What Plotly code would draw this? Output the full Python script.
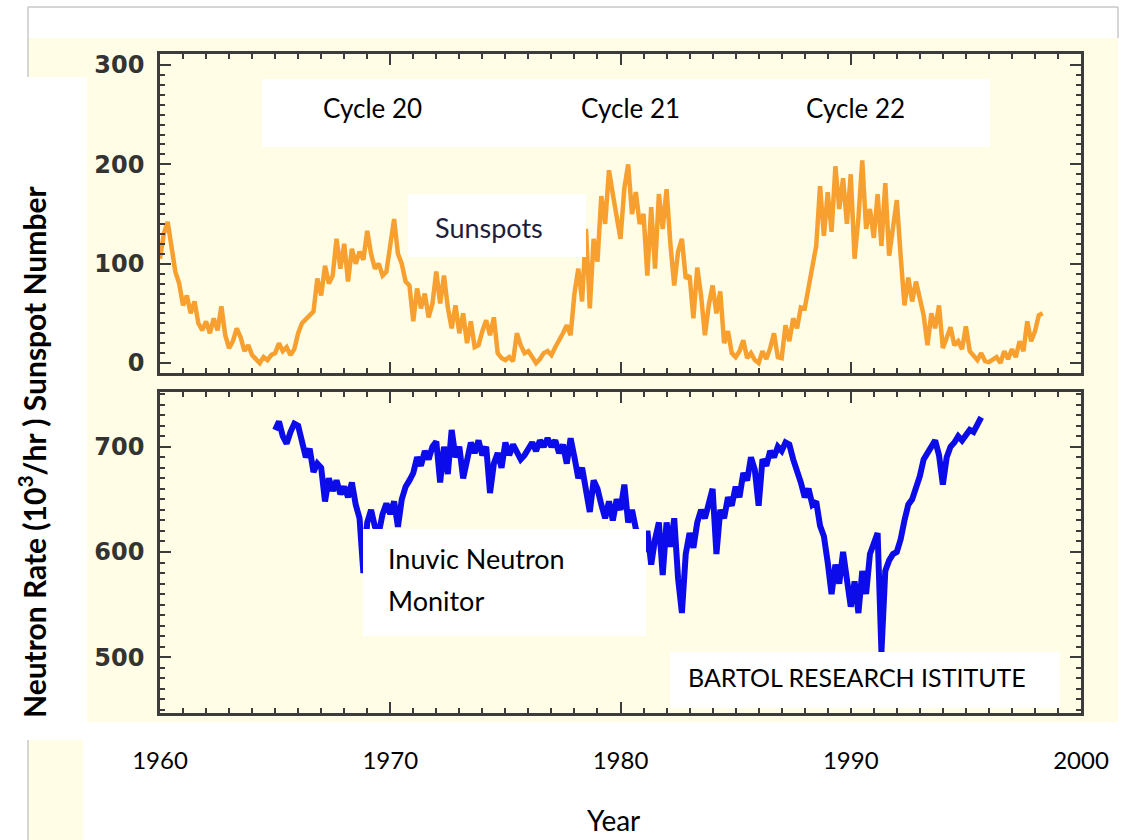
import plotly.graph_objects as go

W, H = 1130, 840

# ---------------- data ----------------
year_ticks = [1960, 1970, 1980, 1990, 2000]
year_labels = ["1960", "1970", "1980", "1990", "2000"]
sunspot_ticks = [0, 100, 200, 300]
neutron_ticks = [500, 600, 700]

sunspot_start = 1960.0   # six samples per year
sunspot_values = [
    105, 130, 142, 118, 92, 80,
    58, 68, 50, 62, 40, 33,
    42, 30, 45, 33, 57, 28,
    15, 22, 35, 26, 12, 18,
    8, 4, 0, 6, 3, 8,
    10, 20, 12, 16, 8, 14,
    30, 40, 44, 48, 52, 85,
    68, 98, 80, 88, 125, 95,
    120, 82, 115, 100, 112, 104,
    133, 110, 95, 100, 88, 92,
    118, 145, 110, 100, 82, 78,
    42, 75, 55, 70, 46, 60,
    92, 60, 88, 56, 35, 58,
    30, 50, 20, 42, 16, 18,
    32, 43, 28, 46, 10, 5,
    3, 6, 2, 30, 18, 10,
    12, 5, 0, 4, 10, 12,
    8, 16, 22, 30, 38, 28,
    70, 95, 62, 135, 55, 125,
    102, 168, 140, 194, 170, 150,
    125, 176, 200, 150, 172, 140,
    150, 88, 157, 95, 170, 135,
    175, 120, 78, 112, 125, 85,
    88, 45, 96, 68, 28, 58,
    78, 50, 72, 20, 32, 10,
    6, 12, 23, 5, 10, 3,
    0, 12, 4, 15, 30, 6,
    5, 38, 22, 45, 35, 56,
    55, 76, 98, 118, 178, 128,
    172, 132, 198, 155, 186, 140,
    190, 105, 146, 204, 135, 155,
    126, 170, 118, 181, 108, 134,
    164, 108, 58, 86, 62, 82,
    64, 48, 18, 50, 35, 58,
    15, 26, 36, 18, 22, 14,
    37, 12, 8, 3, 10, 2,
    1, 3, 6, 0, 12, 4,
    14, 6, 22, 12, 42, 22,
    32, 48, 50,
]

neutron_start = 1965.0   # six samples per year
neutron_values = [
    716, 724, 710, 703, 714, 722,
    720, 706, 690, 698, 676, 684,
    680, 648, 670, 658, 668, 655,
    662, 652, 666, 645, 632, 580,
    628, 640, 624, 618, 636, 646,
    636, 648, 624, 650, 662, 668,
    675, 690, 682, 696, 688, 700,
    705, 666, 700, 674, 716, 690,
    700, 670, 688, 704, 694, 706,
    692, 700, 656, 684, 694, 680,
    704, 692, 702, 696, 688, 692,
    698, 704, 696, 706, 700, 708,
    700, 706, 694, 702, 684, 708,
    690, 670, 680, 658, 638, 668,
    660, 645, 632, 648, 630, 650,
    640, 664, 628, 640, 622, 615,
    600, 620, 588, 612, 628, 578,
    628, 605, 632, 575, 542, 598,
    618, 604, 628, 640, 632, 646,
    660, 598, 640, 632, 652, 644,
    662, 652, 675, 668, 690, 678,
    644, 688, 682, 696, 690, 700,
    696, 704, 702, 688, 678, 666,
    652, 660, 645, 648, 625, 615,
    590, 560, 588, 570, 600, 575,
    548, 572, 542, 582, 560, 598,
    610, 618, 505, 582, 592, 598,
    600, 612, 630, 645, 650, 660,
    672, 688, 694, 700, 706, 692,
    664, 690, 700, 704, 710, 706,
    710, 716, 714, 720, 728,
]

sunspot_years = [sunspot_start + i / 6 for i in range(len(sunspot_values))]
neutron_years = [neutron_start + i / 6 for i in range(len(neutron_values))]

# ---------------- styling ----------------
YELLOW = "#FFFDE6"
AXC = "#3c3c3c"
ORANGE = "#F7A030"
BLUE = "#0C0CEA"
TXT_FONT = "Lato, Carlito, Calibri, sans-serif"


def fx(x):
    return x / W


def fy(y):
    return 1 - y / H


fig = go.Figure()
fig.add_trace(go.Scatter(x=sunspot_years, y=sunspot_values, mode="lines",
                         line=dict(color=ORANGE, width=4.5), xaxis="x", yaxis="y",
                         showlegend=False, hoverinfo="skip"))
fig.add_trace(go.Scatter(x=neutron_years, y=neutron_values, mode="lines",
                         line=dict(color=BLUE, width=6), xaxis="x2", yaxis="y2",
                         showlegend=False, hoverinfo="skip"))

xdom = [fx(160), fx(1081)]
common_x = dict(range=[1960, 2000], showgrid=False, zeroline=False, showline=True,
                automargin=False,
                linecolor=AXC, linewidth=2.5, mirror="allticks", ticks="inside",
                ticklen=11, tickwidth=2, tickcolor=AXC,
                minor=dict(dtick=1, tick0=1960, ticks="inside", ticklen=5, tickwidth=2,
                           tickcolor=AXC, showgrid=False))
common_y = dict(showgrid=False, zeroline=False, showline=True, linecolor=AXC,
                automargin=False,
                linewidth=2.5, mirror="allticks", ticks="inside", ticklen=11,
                tickwidth=2, tickcolor=AXC,
                tickfont=dict(family="DejaVu Sans", size=24, color="#333333", weight="bold"),
                ticklabelstandoff=8,
                minor=dict(dtick=10, ticks="inside", ticklen=5, tickwidth=2,
                           tickcolor=AXC, showgrid=False))

fig.update_layout(
    width=W, height=H, margin=dict(l=0, r=0, t=0, b=0, autoexpand=False),
    paper_bgcolor="white", plot_bgcolor=YELLOW,
    xaxis=dict(domain=xdom, anchor="y", tickvals=year_ticks, showticklabels=False, **common_x),
    yaxis=dict(domain=[fy(373), fy(54)], anchor="x", range=[-10, 311],
               tickvals=sunspot_ticks, **common_y),
    xaxis2=dict(domain=xdom, anchor="y2", tickvals=year_ticks, ticktext=year_labels,
                tickfont=dict(family=TXT_FONT, size=24, color="black"),
                ticklabelstandoff=24, **common_x),
    yaxis2=dict(domain=[fy(713), fy(392)], anchor="x2", range=[447, 752],
                tickvals=neutron_ticks, **common_y),
)


def rect(x0, y0, x1, y1, color, layer="below"):
    fig.add_shape(type="rect", xref="paper", yref="paper",
                  x0=fx(x0), x1=fx(x1), y0=fy(y1), y1=fy(y0),
                  fillcolor=color, line=dict(width=0), layer=layer)


def line(x0, y0, x1, y1, color="#c8c8c8", w=1.5):
    fig.add_shape(type="line", xref="paper", yref="paper",
                  x0=fx(x0), x1=fx(x1), y0=fy(y0), y1=fy(y1),
                  line=dict(color=color, width=w), layer="below")


# page decoration
rect(28, 38, 1118, 722, YELLOW)
rect(0, 77, 87, 722, "white")
rect(28, 740, 83, 840, YELLOW)
line(28, 7, 1118, 7)
line(28, 7, 28, 77)
line(1118, 7, 1118, 38)
line(28, 740, 28, 840)

# white label boxes (above traces)
rect(262, 79, 990, 147, "white", "above")
rect(408, 194, 586, 257, "white", "above")
rect(363, 529, 646, 636, "white", "above")
rect(670, 652, 1060, 708, "white", "above")


def text(x, y, s, size=25, color="black", anchor="center", bold=False, angle=0):
    fig.add_annotation(xref="paper", yref="paper", x=fx(x), y=fy(y), text=s,
                       showarrow=False, xanchor=anchor, yanchor="middle",
                       textangle=angle,
                       font=dict(family=TXT_FONT, size=size, color=color,
                                 weight="bold" if bold else "normal"))


text(372, 108, "Cycle 20", size=26)
text(630, 108, "Cycle 21", size=26)
text(855, 108, "Cycle 22", size=26)
text(489, 228, "Sunspots", size=27, color="#1e1e3c")
text(386, 558, "Inuvic Neutron", size=27, anchor="left")
text(386, 600, "Monitor", size=27, anchor="left")
text(857, 677, "BARTOL RESEARCH ISTITUTE", size=25)
text(613, 820, "Year", size=28)
text(32, 452, "Neutron Rate (10<sup>3</sup>/hr ) Sunspot Number", size=30, bold=True, angle=-90)

fig.write_html("out.html")
